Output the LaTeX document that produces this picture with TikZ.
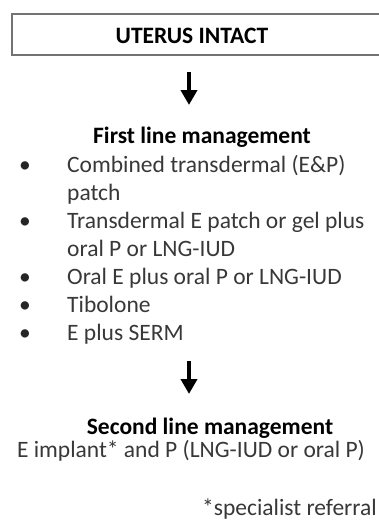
\documentclass[tikz,border=0pt]{standalone}
\usepackage{fontspec}
\setmainfont{Carlito}
\usetikzlibrary{arrows.meta}

\begin{document}
\begin{tikzpicture}[x=1pt,y=-1pt]
\tikzstyle{every node}+=[inner sep=0pt, font=\fontsize{23.5}{24}\selectfont]
\tikzstyle{item}=[anchor=base west, text=black!78]
\tikzstyle{dot}=[anchor=base, text=black!85]
\tikzstyle{arr}=[-{Triangle[width=16pt,length=15pt]}, line width=4pt]
\useasboundingbox (0,0) rectangle (378,525);
\node [draw=black!55, line width=1.4pt, minimum width=372pt, minimum height=41pt] (uterus) at (198,34.5) {};
\node [anchor=base] (title) at (192,43) {\bfseries UTERUS INTACT};
\coordinate (tail1) at (189,72);
\coordinate (tip1) at (189,105);
\draw [arr] (tail1) -- (tip1);
\node [anchor=base] (first) at (202,143) {\bfseries First line management};
\node [dot] (b1) at (25,172) {\textbullet};
\node [item] (i1) at (67,172) {Combined transdermal (E\&P)};
\node [item] (i1b) at (67,200) {patch};
\node [dot] (b2) at (25,228) {\textbullet};
\node [item] (i2) at (67,228) {Transdermal E patch or gel plus};
\node [item] (i2b) at (67,256) {oral P or LNG-IUD};
\node [dot] (b3) at (25,284) {\textbullet};
\node [item] (i3) at (67,284) {Oral E plus oral P or LNG-IUD};
\node [dot] (b4) at (25,312) {\textbullet};
\node [item] (i4) at (67,312) {Tibolone};
\node [dot] (b5) at (25,340) {\textbullet};
\node [item] (i5) at (67,340) {E plus SERM};
\coordinate (tail2) at (189,361);
\coordinate (tip2) at (189,394);
\draw [arr] (tail2) -- (tip2);
\node [anchor=base] (second) at (210,434) {\bfseries Second line management};
\node [anchor=base, text=black!78] (impl) at (191,457) {E implant* and P (LNG-IUD or oral P)};
\node [anchor=base east, text=black!78] (note) at (377,515) {*specialist referral};
\end{tikzpicture}
\end{document}
